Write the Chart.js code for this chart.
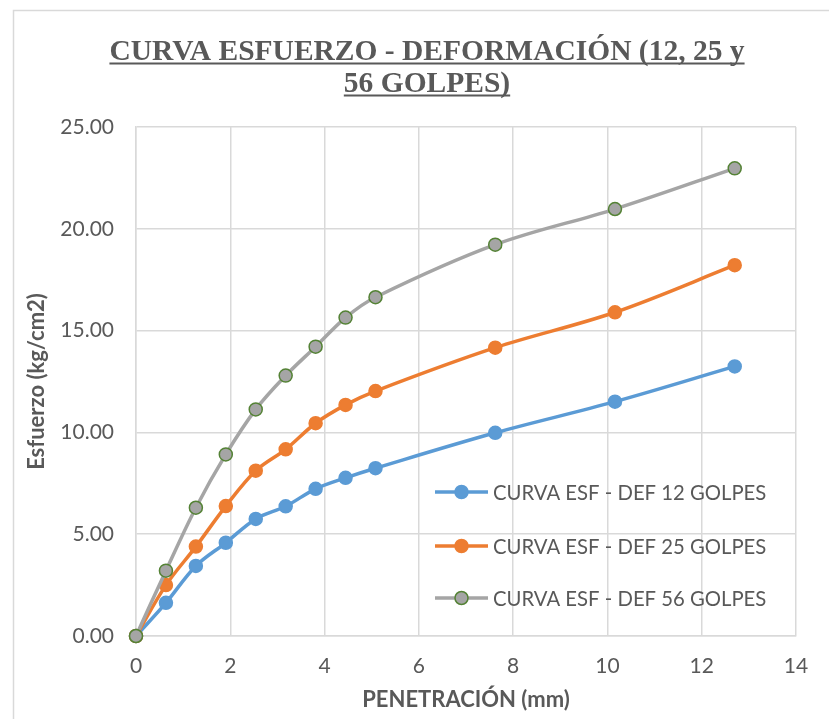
<!DOCTYPE html>
<html>
<head>
<meta charset="utf-8">
<script src="https://cdn.jsdelivr.net/npm/chart.js@4.4.1/dist/chart.umd.min.js"></script>
<style>
  html, body { margin: 0; padding: 0; background: #ffffff; }
  #wrap { position: relative; width: 829px; height: 719px; overflow: hidden; }
</style>
</head>
<body>
<div id="wrap"><canvas id="grafico" width="829" height="719"></canvas></div>
<script>
// Penetración (mm) y esfuerzos (kg/cm2) para cada número de golpes
const penetracion = [0, 0.635, 1.27, 1.905, 2.54, 3.175, 3.81, 4.445, 5.08, 7.62, 10.16, 12.7];
const esfuerzo12 = [0, 1.63, 3.44, 4.58, 5.75, 6.37, 7.23, 7.77, 8.24, 9.98, 11.51, 13.24];
const esfuerzo25 = [0, 2.50, 4.39, 6.38, 8.12, 9.17, 10.45, 11.35, 12.03, 14.16, 15.90, 18.21];
const esfuerzo56 = [0, 3.21, 6.30, 8.92, 11.13, 12.79, 14.21, 15.64, 16.64, 19.22, 20.97, 22.97];
const nombres = ['CURVA ESF - DEF 12 GOLPES', 'CURVA ESF - DEF 25 GOLPES', 'CURVA ESF - DEF 56 GOLPES'];
const tituloLineas = ['CURVA ESFUERZO - DEFORMACIÓN (12, 25 y', '56 GOLPES)'];

const GRIS_TEXTO = '#595959';
const GRID = '#d9d9d9';

function puntos(valores) {
  return penetracion.map((x, i) => ({ x: x, y: valores[i] }));
}

// Marco exterior y título subrayado
const marcoYTitulo = {
  id: 'marcoYTitulo',
  beforeDraw(chart) {
    const ctx = chart.ctx;
    ctx.save();
    ctx.fillStyle = '#ffffff';
    ctx.fillRect(0, 0, chart.width, chart.height);
    ctx.strokeStyle = GRID;
    ctx.lineWidth = 1.5;
    ctx.strokeRect(13.5, 10.5, 860, 760);
    ctx.restore();
  },
  afterDraw(chart) {
    const ctx = chart.ctx;
    ctx.save();
    ctx.font = 'bold 29.5px "Liberation Serif", "Times New Roman", serif';
    ctx.fillStyle = GRIS_TEXTO;
    ctx.strokeStyle = GRIS_TEXTO;
    ctx.textAlign = 'center';
    ctx.textBaseline = 'alphabetic';
    const cx = 427;
    const bases = [60, 92];
    tituloLineas.forEach((t, i) => {
      ctx.fillText(t, cx, bases[i]);
      const w = ctx.measureText(t).width;
      ctx.lineWidth = 2;
      ctx.beginPath();
      ctx.moveTo(cx - w / 2, bases[i] + 3.5);
      ctx.lineTo(cx + w / 2, bases[i] + 3.5);
      ctx.stroke();
    });
    ctx.restore();
  }
};

// Leyenda dentro del área de trazado
const leyendaInterna = {
  id: 'leyendaInterna',
  afterDatasetsDraw(chart) {
    const ctx = chart.ctx;
    const filas = [492, 546, 598];
    const x0 = 435, x1 = 488, xm = 461.5, xt = 493;
    ctx.save();
    chart.data.datasets.forEach((ds, i) => {
      const y = filas[i];
      ctx.strokeStyle = ds.borderColor;
      ctx.lineWidth = ds.borderWidth;
      ctx.beginPath();
      ctx.moveTo(x0, y);
      ctx.lineTo(x1, y);
      ctx.stroke();
      ctx.beginPath();
      ctx.arc(xm, y, ds.pointRadius, 0, Math.PI * 2);
      ctx.fillStyle = ds.pointBackgroundColor;
      ctx.fill();
      ctx.lineWidth = ds.pointBorderWidth;
      ctx.strokeStyle = ds.pointBorderColor;
      ctx.stroke();
      ctx.font = '20.3px Lato, "Open Sans", sans-serif';
      ctx.fillStyle = GRIS_TEXTO;
      ctx.textAlign = 'left';
      ctx.textBaseline = 'middle';
      ctx.fillText(ds.label, xt, y + 1);
    });
    ctx.restore();
  }
};

const serie = (label, valores, color, relleno, borde, orden) => ({
  label: label,
  data: puntos(valores),
  borderColor: color,
  backgroundColor: color,
  borderWidth: 3.5,
  pointRadius: 6.5,
  pointHoverRadius: 6.5,
  pointBackgroundColor: relleno,
  pointBorderColor: borde,
  pointBorderWidth: 1.5,
  tension: 0.35,
  clip: false,
  order: orden
});

new Chart(document.getElementById('grafico'), {
  type: 'line',
  data: {
    datasets: [
      serie(nombres[0], esfuerzo12, '#5b9bd5', '#5b9bd5', '#5b9bd5', 3),
      serie(nombres[1], esfuerzo25, '#ed7d31', '#ed7d31', '#ed7d31', 2),
      serie(nombres[2], esfuerzo56, '#a5a5a5', '#a5a5a5', '#548235', 1)
    ]
  },
  options: {
    responsive: false,
    animation: false,
    devicePixelRatio: 1,
    layout: { padding: { top: 127, left: 13, right: 33, bottom: 0 } },
    plugins: {
      legend: { display: false },
      title: { display: false },
      tooltip: { enabled: false }
    },
    scales: {
      x: {
        type: 'linear',
        min: 0,
        max: 14,
        ticks: {
          stepSize: 2,
          color: GRIS_TEXTO,
          font: { family: 'Lato', size: 21 },
          padding: 18,
          maxRotation: 0
        },
        grid: { color: GRID, lineWidth: 1.5, drawTicks: false },
        border: { color: GRID, width: 1.5 },
        title: {
          display: true,
          text: 'PENETRACIÓN (mm)',
          color: GRIS_TEXTO,
          font: { family: 'Lato', size: 22, weight: 'bold' },
          padding: { top: 0, bottom: 6 }
        },
        afterFit(scale) { scale.height = 83; }
      },
      y: {
        type: 'linear',
        min: 0,
        max: 25,
        ticks: {
          stepSize: 5,
          color: GRIS_TEXTO,
          font: { family: 'Lato', size: 21 },
          padding: 22,
          callback: (v) => Number(v).toFixed(2)
        },
        grid: { color: GRID, lineWidth: 1.5, drawTicks: false },
        border: { color: GRID, width: 1.5 },
        title: {
          display: true,
          text: 'Esfuerzo (kg/cm2)',
          color: GRIS_TEXTO,
          font: { family: 'Lato', size: 22, weight: 'bold' },
          padding: { top: 11, bottom: 0 }
        },
        afterFit(scale) { scale.width = 123; }
      }
    }
  },
  plugins: [marcoYTitulo, leyendaInterna]
});
</script>
</body>
</html>
